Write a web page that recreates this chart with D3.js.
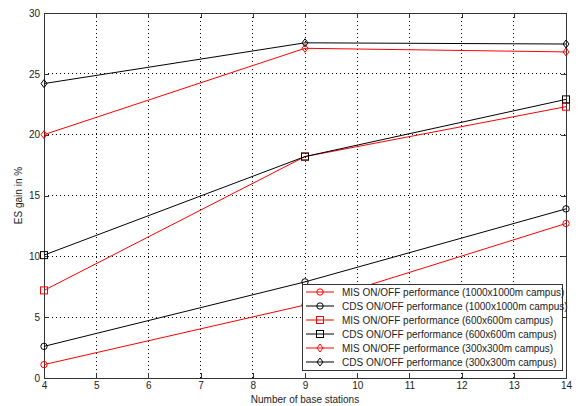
<!DOCTYPE html>
<html>
<head>
<meta charset="utf-8">
<script src="https://cdn.jsdelivr.net/npm/d3@7"></script>
<style>
  body { margin: 0; background: #fff; }
  svg text { font-family: "Liberation Sans", Arial, sans-serif; fill: #222; }
</style>
</head>
<body>
<div id="chart"></div>
<script>
const stations = [4, 9, 14];
const xTicks = [4, 5, 6, 7, 8, 9, 10, 11, 12, 13, 14];
const yTicks = [0, 5, 10, 15, 20, 25, 30];

const mis1000 = [1.1, 6.0, 12.7];
const cds1000 = [2.6, 7.9, 13.9];
const mis600 = [7.2, 18.2, 22.3];
const cds600 = [10.1, 18.2, 22.9];
const mis300 = [20.0, 27.1, 26.8];
const cds300 = [24.2, 27.55, 27.45];

const seriesNames = [
  "MIS ON/OFF performance (1000x1000m campus)",
  "CDS ON/OFF performance (1000x1000m campus)",
  "MIS ON/OFF performance (600x600m campus)",
  "CDS ON/OFF performance (600x600m campus)",
  "MIS ON/OFF performance (300x300m campus)",
  "CDS ON/OFF performance (300x300m campus)"
];

const series = [
  { name: seriesNames[0], values: mis1000, color: "#ff0000", marker: "circle" },
  { name: seriesNames[1], values: cds1000, color: "#000000", marker: "circle" },
  { name: seriesNames[2], values: mis600, color: "#ff0000", marker: "square" },
  { name: seriesNames[3], values: cds600, color: "#000000", marker: "square" },
  { name: seriesNames[4], values: mis300, color: "#ff0000", marker: "diamond" },
  { name: seriesNames[5], values: cds300, color: "#000000", marker: "diamond" }
];

const width = 580, height = 406;
const margin = { top: 13, right: 14, bottom: 28, left: 44 };
const innerW = width - margin.left - margin.right;
const innerH = height - margin.top - margin.bottom;

const svg = d3.select("#chart").append("svg")
  .attr("width", width).attr("height", height);

const bounds = svg.append("g")
  .attr("transform", `translate(${margin.left},${margin.top})`);

const xScale = d3.scaleLinear().domain([4, 14]).range([0, innerW]);
const yScale = d3.scaleLinear().domain([0, 30]).range([innerH, 0]);

// grid
bounds.append("g").selectAll("line").data(xTicks.slice(1, -1)).join("line")
  .attr("x1", d => xScale(d)).attr("x2", d => xScale(d))
  .attr("y1", 0).attr("y2", innerH)
  .attr("stroke", "#000").attr("stroke-width", 1)
  .attr("stroke-dasharray", "1,3").attr("shape-rendering", "crispEdges");
bounds.append("g").selectAll("line").data(yTicks.slice(1, -1)).join("line")
  .attr("y1", d => yScale(d)).attr("y2", d => yScale(d))
  .attr("x1", 0).attr("x2", innerW)
  .attr("stroke", "#000").attr("stroke-width", 1)
  .attr("stroke-dasharray", "1,3").attr("shape-rendering", "crispEdges");

// axes (ticks inside, matlab style)
const xAxis = bounds.append("g")
  .attr("transform", `translate(0,${innerH})`)
  .call(d3.axisBottom(xScale).tickValues(xTicks).tickSize(-5).tickPadding(4).tickFormat(d3.format("d")));
const xAxisTop = bounds.append("g")
  .call(d3.axisTop(xScale).tickValues(xTicks).tickSize(-5).tickFormat(""));
const yAxis = bounds.append("g")
  .call(d3.axisLeft(yScale).tickValues(yTicks).tickSize(-5).tickPadding(4));
const yAxisRight = bounds.append("g")
  .attr("transform", `translate(${innerW},0)`)
  .call(d3.axisRight(yScale).tickValues(yTicks).tickSize(-5).tickFormat(""));

[xAxis, xAxisTop, yAxis, yAxisRight].forEach(a => {
  a.select(".domain").attr("stroke", "#333").attr("shape-rendering", "crispEdges");
  a.selectAll(".tick line").attr("stroke", "#333").attr("shape-rendering", "crispEdges");
  a.selectAll("text").style("font-size", "10px").attr("fill", "#222");
});

// lines
const lineGen = d3.line()
  .x((d, i) => xScale(stations[i]))
  .y(d => yScale(d));

function drawMarker(g, type, color) {
  if (type === "circle") {
    g.append("circle").attr("r", 3.2)
      .attr("fill", "none").attr("stroke", color);
  } else if (type === "square") {
    g.append("rect").attr("x", -3.5).attr("y", -3.5)
      .attr("width", 7).attr("height", 7)
      .attr("fill", "none").attr("stroke", color);
  } else {
    g.append("path").attr("d", "M0,-4L3,0L0,4L-3,0Z")
      .attr("fill", "none").attr("stroke", color);
  }
}

series.forEach(s => {
  bounds.append("path")
    .attr("d", lineGen(s.values))
    .attr("fill", "none")
    .attr("stroke", s.color)
    .attr("stroke-width", 1);
  s.values.forEach((v, i) => {
    const g = bounds.append("g")
      .attr("transform", `translate(${xScale(stations[i])},${yScale(v)})`);
    drawMarker(g, s.marker, s.color);
  });
});

// legend
const legend = svg.append("g").attr("transform", "translate(302,284)");
legend.append("rect")
  .attr("width", 260).attr("height", 86)
  .attr("fill", "#fff").attr("stroke", "#333")
  .attr("shape-rendering", "crispEdges");
series.forEach((s, i) => {
  const row = legend.append("g").attr("transform", `translate(0,${8 + i * 14})`);
  row.append("line").attr("x1", 4).attr("x2", 32)
    .attr("stroke", s.color).attr("stroke-width", 1);
  const m = row.append("g").attr("transform", "translate(18,0)");
  drawMarker(m, s.marker, s.color);
  row.append("text").attr("x", 40).attr("y", 0).attr("dy", "0.35em")
    .style("font-size", "10px").text(s.name);
});

// axis labels
svg.append("text")
  .attr("x", margin.left + innerW / 2).attr("y", 403)
  .attr("text-anchor", "middle").style("font-size", "10px")
  .text("Number of base stations");
svg.append("text")
  .attr("transform", `translate(22,${margin.top + innerH / 2}) rotate(-90)`)
  .attr("text-anchor", "middle").style("font-size", "10px")
  .text("ES gain in %");
</script>
</body>
</html>
